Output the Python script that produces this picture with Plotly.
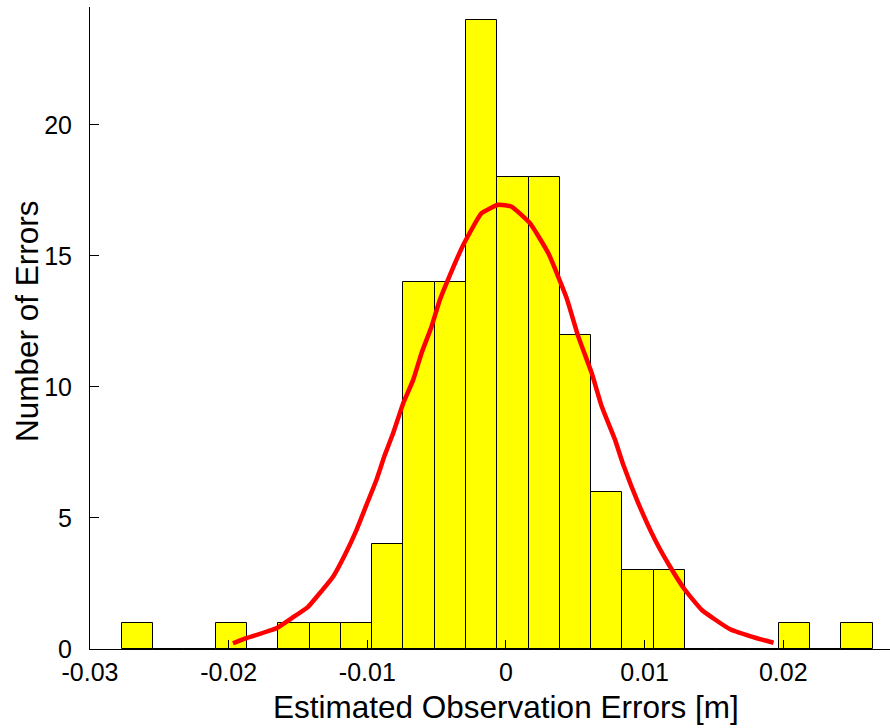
import plotly.graph_objects as go

# Histogram bins (centers) and counts
bin_centers = [-0.026576, -0.024320, -0.022063, -0.019807, -0.017551, -0.015294,
               -0.013038, -0.010782, -0.008525, -0.006269, -0.004013, -0.001757,
               0.000500, 0.002756, 0.005012, 0.007269, 0.009525, 0.011781,
               0.014038, 0.016294, 0.018550, 0.020807, 0.023063, 0.025319]
counts = [1, 0, 0, 1, 0, 1, 1, 1, 4, 14, 14, 24, 18, 18, 12, 6, 3, 3, 0, 0, 0, 1, 0, 1]
bin_width = 0.0022563

# Fitted curve
fit_x = [-0.01969, -0.01897, -0.01656, -0.01547, -0.01427, -0.01343, -0.01247,
         -0.01162, -0.01078, -0.01006, -0.00934, -0.00874, -0.00814, -0.00741,
         -0.00669, -0.00609, -0.00537, -0.00477, -0.00404, -0.00308, -0.00176,
         -0.00055, 0.00041, 0.00173, 0.00306, 0.00438, 0.00522, 0.00619,
         0.00691, 0.00787, 0.00847, 0.00955, 0.01076, 0.01184, 0.01292,
         0.01413, 0.01617, 0.01810, 0.01930]
fit_y = [0.22, 0.37, 0.79, 1.17, 1.61, 2.13, 2.76, 3.59, 4.54, 5.50, 6.45, 7.40,
         8.23, 9.38, 10.27, 11.29, 12.30, 13.32, 14.27, 15.42, 16.63, 16.95,
         16.88, 16.25, 15.10, 13.39, 11.92, 10.52, 9.25, 7.98, 7.02, 5.56,
         4.16, 3.14, 2.25, 1.49, 0.75, 0.41, 0.24]

x_ticks = [-0.03, -0.02, -0.01, 0, 0.01, 0.02]
x_tick_labels = ["-0.03", "-0.02", "-0.01", "0", "0.01", "0.02"]
y_ticks = [0, 5, 10, 15, 20]

FONT = "Liberation Sans, Arial, sans-serif"

fig = go.Figure()
fig.add_trace(go.Bar(
    x=bin_centers, y=counts, width=[bin_width] * len(bin_centers),
    marker=dict(color="#FFFF00", line=dict(color="black", width=1)),
    showlegend=False,
))
fig.add_trace(go.Scatter(
    x=fit_x, y=fit_y, mode="lines",
    line=dict(color="#FF0000", width=4.5, shape="spline", smoothing=0.4),
    showlegend=False,
))

fig.update_layout(
    width=890, height=728,
    margin=dict(l=90, r=0, t=7, b=79),
    paper_bgcolor="white", plot_bgcolor="white",
    font=dict(family=FONT, color="black"),
    bargap=0,
    xaxis=dict(
        range=[-0.03, 0.0277],
        tickvals=x_ticks, ticktext=x_tick_labels,
        ticks="inside", ticklen=9, tickcolor="black",
        showline=True, linecolor="black", linewidth=1,
        showgrid=False, zeroline=False,
        tickfont=dict(size=25, family=FONT, color="black"),
        ticklabelstandoff=1,
    ),
    yaxis=dict(
        range=[0, 24.5],
        tickvals=y_ticks,
        ticks="inside", ticklen=9, tickcolor="black",
        showline=True, linecolor="black", linewidth=1,
        showgrid=False, zeroline=False,
        tickfont=dict(size=25, family=FONT, color="black"),
        ticklabelstandoff=12,
    ),
    annotations=[
        dict(text="Estimated Observation Errors [m]", x=0, xref="x",
             y=0, yref="paper", yanchor="middle", xanchor="center",
             yshift=-58, showarrow=False,
             font=dict(size=31.5, family=FONT, color="black")),
        dict(text="Number of Errors", x=0, xref="paper", xshift=-63,
             y=(649 - 321) / 642, yref="paper", xanchor="center", yanchor="middle",
             textangle=-90, showarrow=False,
             font=dict(size=31.5, family=FONT, color="black")),
    ],
)

fig.write_html("out.html")
